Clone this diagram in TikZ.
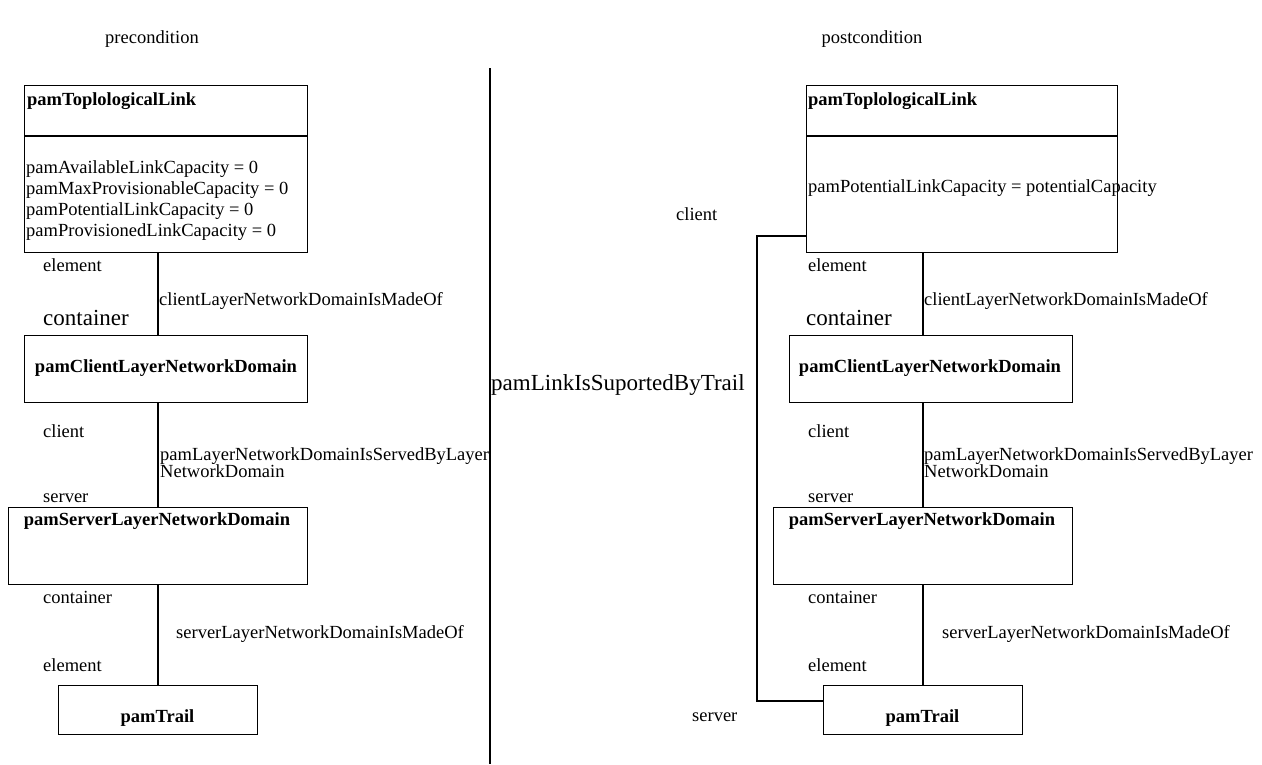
\documentclass[tikz,border=0pt]{standalone}
\usepackage{fontspec}
\setmainfont{Liberation Serif}
\usetikzlibrary{calc}
\begin{document}
\begin{tikzpicture}[x=1pt,y=-1pt,
  lbl/.style={font=\fontsize{18.5}{21}\selectfont, inner sep=0pt, anchor=base west},
  big/.style={font=\fontsize{23}{26}\selectfont, inner sep=0pt, anchor=base west},
  ttl/.style={font=\fontsize{18.5}{21}\selectfont\bfseries, inner sep=0pt, anchor=base},
  ttlw/.style={font=\fontsize{18.5}{21}\selectfont\bfseries, inner sep=0pt, anchor=base west},
  box/.style={draw, line width=1.4pt, rectangle, inner sep=0pt, anchor=north west},
  conn/.style={line width=1.4pt}]
\useasboundingbox (0,0) rectangle (1262,764);
% headings
\node[lbl, anchor=base] (pre) at (152,43) {precondition};
\node[lbl, anchor=base] (post) at (872,43) {postcondition};
% divider
\coordinate (dt) at (490,68);
\coordinate (db) at (490,764);
\draw[conn] (dt) -- (db);
\node[big] (assoc) at (491,390) {pamLinkIsSuportedByTrail};

% ---------- LEFT ----------
\node[box, minimum width=283pt, minimum height=167pt] (tlL) at (24,85) {};
\draw[conn] ($(tlL.north west)+(0,51)$) -- ($(tlL.north east)+(0,51)$);
\node[ttlw] (tlLt) at (27,105) {pamToplologicalLink};
\node[lbl] (a1) at (26,173) {pamAvailableLinkCapacity = 0};
\node[lbl] (a2) at (26,194) {pamMaxProvisionableCapacity = 0};
\node[lbl] (a3) at (26,215) {pamPotentialLinkCapacity = 0};
\node[lbl] (a4) at (26,236) {pamProvisionedLinkCapacity = 0};

\node[box, minimum width=283pt, minimum height=67pt] (clL) at (24,335) {};
\node[ttl] (clLt) at (166,372) {pamClientLayerNetworkDomain};

\node[box, minimum width=299pt, minimum height=77pt] (slL) at (8,507) {};
\node[ttl] (slLt) at (157,525) {pamServerLayerNetworkDomain};

\node[box, minimum width=199pt, minimum height=49pt] (trL) at (58,685) {};
\node[ttl] (trLt) at (157.5,722) {pamTrail};

\coordinate (cx) at (158,0);
\draw[conn] (tlL.south -| cx) -- (clL.north -| cx);
\draw[conn] (clL.south -| cx) -- (slL.north -| cx);
\draw[conn] (slL.south -| cx) -- (trL.north -| cx);

\node[lbl] (e1L) at (43,271) {element};
\node[big] (c1L) at (43,325) {container};
\node[lbl] (r1L) at (159,305) {clientLayerNetworkDomainIsMadeOf};
\node[lbl] (clntL) at (43,437) {client};
\node[lbl] (srvL) at (43,502) {server};
\node[lbl] (r2aL) at (160,460) {pamLayerNetworkDomainIsServedByLayer};
\node[lbl] (r2bL) at (160,477) {NetworkDomain};
\node[lbl] (c2L) at (43,603) {container};
\node[lbl] (r3L) at (176,638) {serverLayerNetworkDomainIsMadeOf};
\node[lbl] (e2L) at (43,671) {element};

% ---------- RIGHT ----------
\node[box, minimum width=311pt, minimum height=167pt] (tlR) at (806,85) {};
\draw[conn] ($(tlR.north west)+(0,51)$) -- ($(tlR.north east)+(0,51)$);
\node[ttlw] (tlRt) at (808,105) {pamToplologicalLink};
\node[lbl] (b1) at (808,192) {pamPotentialLinkCapacity = potentialCapacity};

\node[box, minimum width=283pt, minimum height=67pt] (clR) at (789,335) {};
\node[ttl] (clRt) at (930,372) {pamClientLayerNetworkDomain};

\node[box, minimum width=299pt, minimum height=77pt] (slR) at (773,507) {};
\node[ttl] (slRt) at (922,525) {pamServerLayerNetworkDomain};

\node[box, minimum width=199pt, minimum height=49pt] (trR) at (823,685) {};
\node[ttl] (trRt) at (922.5,722) {pamTrail};

\coordinate (cxR) at (923,0);
\draw[conn] (tlR.south -| cxR) -- (clR.north -| cxR);
\draw[conn] (clR.south -| cxR) -- (slR.north -| cxR);
\draw[conn] (slR.south -| cxR) -- (trR.north -| cxR);

\coordinate (ly1) at (0,236);
\coordinate (ly2) at (0,701);
\coordinate (lx) at (757,0);
\draw[conn] (tlR.west |- ly1) -| (lx |- ly2) -- (trR.west |- ly2);

\node[lbl] (clientR) at (676,220) {client};
\node[lbl] (serverR) at (692,721) {server};

\node[lbl] (e1R) at (808,271) {element};
\node[big] (c1R) at (806,325) {container};
\node[lbl] (r1R) at (924,305) {clientLayerNetworkDomainIsMadeOf};
\node[lbl] (clntR) at (808,437) {client};
\node[lbl] (srvR) at (808,502) {server};
\node[lbl] (r2aR) at (924,460) {pamLayerNetworkDomainIsServedByLayer};
\node[lbl] (r2bR) at (924,477) {NetworkDomain};
\node[lbl] (c2R) at (808,603) {container};
\node[lbl] (r3R) at (942,638) {serverLayerNetworkDomainIsMadeOf};
\node[lbl] (e2R) at (808,671) {element};
\end{tikzpicture}
\end{document}
